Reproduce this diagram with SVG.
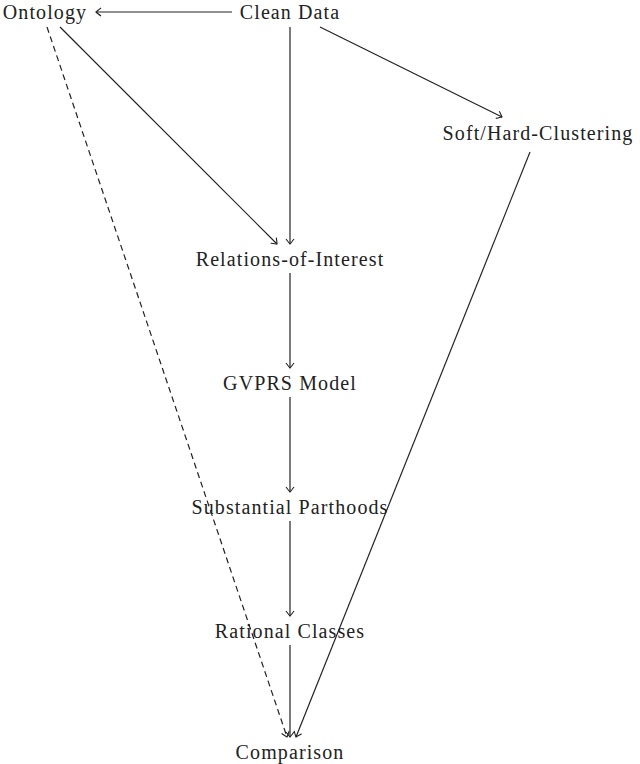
<svg xmlns="http://www.w3.org/2000/svg" width="640" height="764" viewBox="0 0 640 764">
<style>
text{font-family:"Liberation Serif","DejaVu Serif",serif;font-size:20px;letter-spacing:1.1px;fill:#222;text-anchor:middle;dominant-baseline:central}
.e{stroke:#222;stroke-width:1.2;fill:none;marker-end:url(#a)}
.d{stroke-dasharray:6,4}
</style>
<defs>
<marker id="a" viewBox="-6 -5 8 10" refX="0" refY="0" markerWidth="8" markerHeight="10" markerUnits="userSpaceOnUse" orient="auto">
<path d="M-5,-4 Q-1,-1 0,0 Q-1,1 -5,4" fill="none" stroke="#222" stroke-width="1.1"/>
</marker>
</defs>
<g id="connectors">
<line class="e" x1="232" y1="12" x2="96" y2="12"/>
<line class="e" x1="290" y1="27" x2="290" y2="244"/>
<line class="e" x1="320" y1="27" x2="502" y2="117"/>
<line class="e" x1="60" y1="27" x2="277" y2="244"/>
<line class="e d" x1="47" y1="27" x2="287" y2="737"/>
<line class="e" x1="290" y1="273" x2="290" y2="368"/>
<line class="e" x1="290" y1="397" x2="290" y2="492"/>
<line class="e" x1="290" y1="521" x2="290" y2="616"/>
<line class="e" x1="290" y1="645" x2="290" y2="737"/>
<line class="e" x1="530" y1="152" x2="296" y2="737"/>
</g>
<g id="ontology"><text x="45" y="12">Ontology</text></g>
<g id="clean"><text x="290" y="12">Clean Data</text></g>
<g id="soft"><text x="538" y="133" letter-spacing="0.6">Soft/Hard-Clustering</text></g>
<g id="relations"><text x="290" y="259">Relations-of-Interest</text></g>
<g id="gvprs"><text x="290" y="383">GVPRS Model</text></g>
<g id="substantial"><text x="290" y="507">Substantial Parthoods</text></g>
<g id="rational"><text x="290" y="631">Rational Classes</text></g>
<g id="comparison"><text x="290" y="752">Comparison</text></g>
</svg>
